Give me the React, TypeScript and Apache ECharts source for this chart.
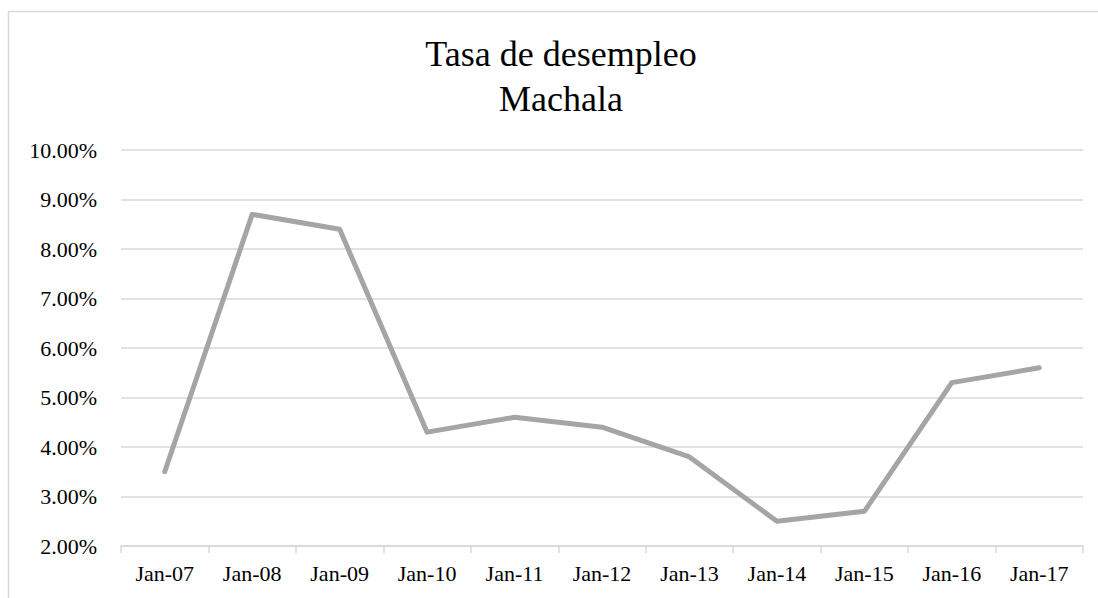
import React, { useEffect, useRef } from "react";
import * as echarts from "echarts";

const categories = ["Jan-07", "Jan-08", "Jan-09", "Jan-10", "Jan-11", "Jan-12", "Jan-13", "Jan-14", "Jan-15", "Jan-16", "Jan-17"];
const rates = [3.5, 8.7, 8.4, 4.3, 4.6, 4.4, 3.8, 2.5, 2.7, 5.3, 5.6];
const titleLines = ["Tasa de desempleo", "Machala"];

const FONT = "Liberation Serif, Times New Roman, serif";

export default function App() {
  const ref = useRef<HTMLDivElement>(null);
  useEffect(() => {
    if (!ref.current) return;
    const chart = echarts.init(ref.current, undefined, { renderer: "svg" });
    chart.setOption({
      animation: false,
      backgroundColor: "#ffffff",
      textStyle: { fontFamily: FONT },
      graphic: [
        {
          type: "rect",
          shape: { x: 8.5, y: 11.5, width: 1200, height: 700 },
          style: { fill: "none", stroke: "#D9D9D9", lineWidth: 1.5 },
          silent: true,
          z: -1,
        },
        {
          type: "text",
          x: 561,
          y: 54,
          style: { text: titleLines[0], fontFamily: FONT, fontSize: 36, fill: "#000", align: "center", verticalAlign: "middle" },
        },
        {
          type: "text",
          x: 561,
          y: 99,
          style: { text: titleLines[1], fontFamily: FONT, fontSize: 36, fill: "#000", align: "center", verticalAlign: "middle" },
        },
      ],
      grid: { left: 121, right: 15, top: 150, bottom: 52, containLabel: false },
      xAxis: {
        type: "category",
        data: categories,
        boundaryGap: true,
        axisLine: { lineStyle: { color: "#D9D9D9", width: 1.5 } },
        axisTick: { show: true, length: 7, lineStyle: { color: "#D9D9D9", width: 1.5 } },
        axisLabel: { color: "#000", fontFamily: FONT, fontSize: 22, margin: 16 },
      },
      yAxis: {
        type: "value",
        min: 2,
        max: 10,
        interval: 1,
        axisLine: { show: false },
        axisTick: { show: false },
        splitLine: { lineStyle: { color: "#D9D9D9", width: 1.5 } },
        axisLabel: {
          color: "#000",
          fontFamily: FONT,
          fontSize: 22,
          margin: 24,
          formatter: (v: number) => v.toFixed(2) + "%",
        },
      },
      series: [
        {
          type: "line",
          data: rates,
          symbol: "none",
          lineStyle: { color: "#A5A5A5", width: 5, join: "round", cap: "round" },
        },
      ],
    });
    return () => chart.dispose();
  }, []);
  return <div ref={ref} style={{ position: "fixed", left: 0, top: 0, width: 1098, height: 598 }} />;
}
